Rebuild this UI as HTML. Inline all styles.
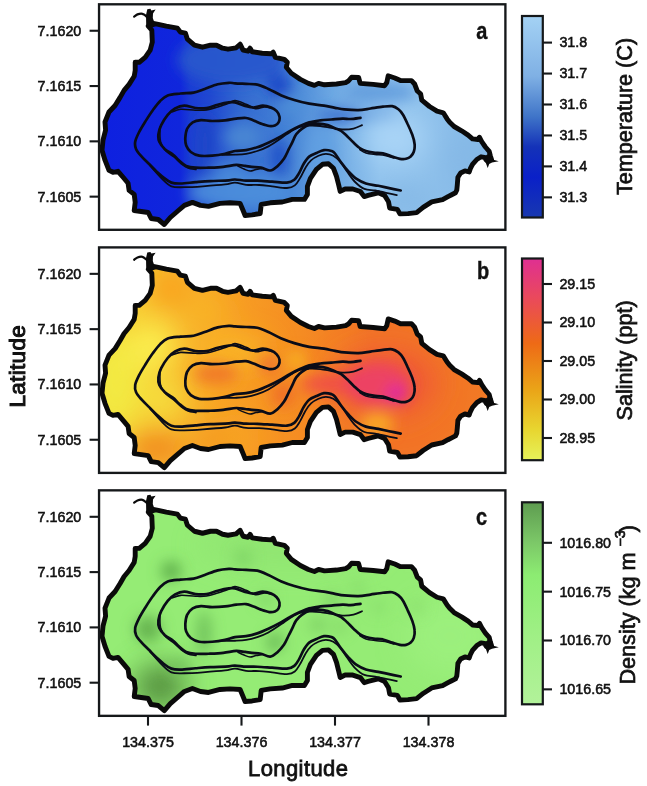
<!DOCTYPE html>
<html><head><meta charset="utf-8"><title>Figure</title>
<style>html,body{margin:0;padding:0;background:#fff}svg{display:block}text{font-family:"Liberation Sans",sans-serif;fill:#111}</style></head>
<body><svg width="647" height="786" viewBox="0 0 647 786">
<rect width="647" height="786" fill="#fff"/>
<defs>
<clipPath id="cp"><polygon points="149.5,24.5 153.3,23.3 158.3,24.3 166.3,26.1 177.4,28.1 180.4,32.1 185.4,33.1 187.4,39.2 194.4,45.2 202.5,47.2 210.5,45.2 216.5,45.2 222.6,48.2 228.0,49.2 236.1,47.8 240.1,44.2 243.1,50.2 248.1,51.2 250.1,48.2 252.1,51.8 262.2,53.2 271.2,53.8 273.2,52.2 275.3,57.3 284.3,59.3 287.3,62.3 286.3,67.3 291.3,73.3 300.4,79.4 308.4,83.4 314.4,85.4 318.5,83.4 324.5,84.8 336.5,84.0 345.6,82.6 348.6,80.8 351.6,77.2 358.6,77.5 360.2,83.4 373.2,84.4 384.6,85.7 386.8,82.5 388.2,75.8 394.8,78.0 400.5,80.6 411.5,80.6 414.6,84.0 417.3,91.0 420.6,93.8 421.8,100.2 429.5,106.5 437.0,111.2 443.3,112.8 447.1,118.9 449.7,122.2 454.1,126.5 461.6,130.8 468.1,135.1 472.5,138.9 477.9,139.5 479.5,137.3 481.7,141.6 485.4,147.0 489.2,151.4 490.3,155.7 491.5,159.5 486.5,160.5 484.4,157.3 481.1,156.8 476.8,159.5 472.5,164.4 470.3,168.7 469.2,171.9 464.9,170.9 460.6,173.0 457.9,177.3 457.3,184.9 456.8,190.0 455.5,192.8 451.2,195.0 448.0,196.6 442.6,199.6 431.7,201.9 423.1,207.4 416.6,212.6 408.0,213.6 399.9,213.9 397.4,209.4 389.7,208.1 388.5,201.7 384.6,195.4 378.3,192.8 368.1,195.4 364.2,196.6 360.4,191.5 352.8,189.0 345.1,189.0 340.2,191.4 338.5,184.3 336.5,176.3 333.5,168.3 328.5,163.8 322.5,164.3 316.4,169.3 310.4,178.3 307.4,186.4 307.4,194.4 304.4,199.4 292.3,199.4 282.3,202.0 270.2,202.8 261.2,204.4 260.2,213.5 252.1,214.9 245.1,215.5 243.1,210.5 240.1,203.4 230.0,202.8 220.0,203.4 208.5,206.4 200.5,205.4 192.4,202.4 184.4,205.4 178.4,210.5 170.3,217.5 164.3,224.5 158.3,219.5 151.2,218.5 148.2,212.5 141.2,211.5 134.2,210.5 135.2,202.4 134.2,194.4 129.1,190.4 128.1,183.3 123.1,177.3 118.0,171.3 113.0,172.3 109.0,170.3 105.0,160.2 102.0,150.2 103.0,140.1 105.6,130.1 105.0,122.0 109.0,112.0 115.1,105.5 120.1,97.4 124.1,90.4 129.1,84.4 134.2,76.3 135.2,70.3 135.2,62.3 139.2,62.3 145.2,57.3 150.2,50.2 152.3,42.2 151.8,30.1 148.2,26.1"/></clipPath>
<filter id="bl" x="-50%" y="-50%" width="200%" height="200%"><feGaussianBlur stdDeviation="14"/></filter>
<filter id="bm" x="-50%" y="-50%" width="200%" height="200%"><feGaussianBlur stdDeviation="7"/></filter>
<filter id="bs" x="-50%" y="-50%" width="200%" height="200%"><feGaussianBlur stdDeviation="8"/></filter>
<linearGradient id="ga" x1="100" x2="500" gradientUnits="userSpaceOnUse">
<stop offset="0" stop-color="#0e20e0"/><stop offset="0.2" stop-color="#1026dc"/><stop offset="0.225" stop-color="#1a3cd4"/><stop offset="0.275" stop-color="#2048d0"/><stop offset="0.35" stop-color="#3268d0"/><stop offset="0.475" stop-color="#4684d6"/><stop offset="0.575" stop-color="#6aa6e2"/><stop offset="0.7" stop-color="#92c4ee"/><stop offset="0.8" stop-color="#90c2ec"/><stop offset="1" stop-color="#84b8e6"/></linearGradient>
<linearGradient id="gb" x1="100" x2="500" gradientUnits="userSpaceOnUse">
<stop offset="0" stop-color="#f4de3c"/><stop offset="0.12" stop-color="#f8c830"/><stop offset="0.3" stop-color="#f8a424"/><stop offset="0.5" stop-color="#f58c22"/><stop offset="0.68" stop-color="#f27426"/><stop offset="0.8" stop-color="#f27426"/><stop offset="1" stop-color="#f27a24"/></linearGradient>
<linearGradient id="ca" x1="0" x2="0" y1="0" y2="1"><stop offset="0" stop-color="#a4d2f4"/><stop offset="0.3" stop-color="#7fb0e4"/><stop offset="0.5" stop-color="#3f74c8"/><stop offset="0.65" stop-color="#1432b8"/><stop offset="0.8" stop-color="#0a20c8"/><stop offset="1" stop-color="#1838b0"/></linearGradient>
<linearGradient id="cb" x1="0" x2="0" y1="0" y2="1"><stop offset="0" stop-color="#df2f92"/><stop offset="0.2" stop-color="#ea4a5a"/><stop offset="0.42" stop-color="#ee6a16"/><stop offset="0.65" stop-color="#eaa418"/><stop offset="0.85" stop-color="#e8d630"/><stop offset="1" stop-color="#e6f25a"/></linearGradient>
<linearGradient id="cc" x1="0" x2="0" y1="0" y2="1"><stop offset="0" stop-color="#5e9c50"/><stop offset="0.2" stop-color="#7cc868"/><stop offset="0.36" stop-color="#8cec72"/><stop offset="0.7" stop-color="#a2f088"/><stop offset="1" stop-color="#b2f29a"/></linearGradient>
<g id="shape"><polygon points="149.5,24.5 153.3,23.3 158.3,24.3 166.3,26.1 177.4,28.1 180.4,32.1 185.4,33.1 187.4,39.2 194.4,45.2 202.5,47.2 210.5,45.2 216.5,45.2 222.6,48.2 228.0,49.2 236.1,47.8 240.1,44.2 243.1,50.2 248.1,51.2 250.1,48.2 252.1,51.8 262.2,53.2 271.2,53.8 273.2,52.2 275.3,57.3 284.3,59.3 287.3,62.3 286.3,67.3 291.3,73.3 300.4,79.4 308.4,83.4 314.4,85.4 318.5,83.4 324.5,84.8 336.5,84.0 345.6,82.6 348.6,80.8 351.6,77.2 358.6,77.5 360.2,83.4 373.2,84.4 384.6,85.7 386.8,82.5 388.2,75.8 394.8,78.0 400.5,80.6 411.5,80.6 414.6,84.0 417.3,91.0 420.6,93.8 421.8,100.2 429.5,106.5 437.0,111.2 443.3,112.8 447.1,118.9 449.7,122.2 454.1,126.5 461.6,130.8 468.1,135.1 472.5,138.9 477.9,139.5 479.5,137.3 481.7,141.6 485.4,147.0 489.2,151.4 490.3,155.7 491.5,159.5 486.5,160.5 484.4,157.3 481.1,156.8 476.8,159.5 472.5,164.4 470.3,168.7 469.2,171.9 464.9,170.9 460.6,173.0 457.9,177.3 457.3,184.9 456.8,190.0 455.5,192.8 451.2,195.0 448.0,196.6 442.6,199.6 431.7,201.9 423.1,207.4 416.6,212.6 408.0,213.6 399.9,213.9 397.4,209.4 389.7,208.1 388.5,201.7 384.6,195.4 378.3,192.8 368.1,195.4 364.2,196.6 360.4,191.5 352.8,189.0 345.1,189.0 340.2,191.4 338.5,184.3 336.5,176.3 333.5,168.3 328.5,163.8 322.5,164.3 316.4,169.3 310.4,178.3 307.4,186.4 307.4,194.4 304.4,199.4 292.3,199.4 282.3,202.0 270.2,202.8 261.2,204.4 260.2,213.5 252.1,214.9 245.1,215.5 243.1,210.5 240.1,203.4 230.0,202.8 220.0,203.4 208.5,206.4 200.5,205.4 192.4,202.4 184.4,205.4 178.4,210.5 170.3,217.5 164.3,224.5 158.3,219.5 151.2,218.5 148.2,212.5 141.2,211.5 134.2,210.5 135.2,202.4 134.2,194.4 129.1,190.4 128.1,183.3 123.1,177.3 118.0,171.3 113.0,172.3 109.0,170.3 105.0,160.2 102.0,150.2 103.0,140.1 105.6,130.1 105.0,122.0 109.0,112.0 115.1,105.5 120.1,97.4 124.1,90.4 129.1,84.4 134.2,76.3 135.2,70.3 135.2,62.3 139.2,62.3 145.2,57.3 150.2,50.2 152.3,42.2 151.8,30.1 148.2,26.1" fill="none" stroke="#0a0a0a" stroke-width="4.9" stroke-linejoin="round"/><polygon points="147.3,9.3 150.4,8.8 151.4,10.4 155.6,9.6 153,13.5 152.8,18 154.2,22 157.5,25.5 150,28.5 146.2,24.5 146,15" fill="#0a0a0a"/><polygon points="488,154 492.5,159.5 498.8,161.2 492,162.6 489.2,164 487.7,168 485.5,162 485,156" fill="#0a0a0a"/><path d="M134.2,16.6C134.8,16.2 136.3,14.9 137.5,14.4C138.7,13.9 140.1,13.6 141.2,13.6C142.3,13.6 143.1,14.1 144.0,14.6C144.9,15.1 146.3,16.4 146.8,16.8" fill="none" stroke="#0a0a0a" stroke-width="2.3" stroke-linecap="round"/>
<g fill="none" stroke="#0a0c18" stroke-width="2.7" stroke-linecap="round" stroke-linejoin="round"><path d="M400.7,190.5C398.8,190.1 392.8,188.9 389.1,188.1C385.4,187.3 382.2,186.6 378.3,185.8C374.4,185.0 369.5,184.7 365.9,183.5C362.3,182.3 359.4,180.8 356.6,178.9C353.8,177.0 351.5,174.6 348.9,171.9C346.3,169.2 343.5,165.7 341.2,162.6C338.9,159.5 336.6,155.4 335.0,153.5C333.4,151.6 333.2,151.6 331.4,151.0C329.6,150.4 326.5,149.8 324.0,150.1C321.5,150.4 319.1,151.8 316.6,152.9C314.1,154.0 311.4,154.8 309.2,156.6C307.0,158.4 305.3,161.2 303.6,164.0C301.9,166.8 300.6,170.7 299.0,173.3C297.4,175.9 296.3,178.2 294.3,179.8C292.3,181.4 290.6,182.3 286.9,182.6C283.2,182.9 277.0,181.9 272.1,181.6C267.2,181.3 261.6,180.9 257.3,180.7C253.0,180.5 249.8,180.8 246.1,180.6C242.4,180.4 237.9,179.6 235.0,179.5C232.1,179.4 233.0,180.0 228.9,180.3C224.8,180.6 215.9,180.8 210.3,181.1C204.7,181.4 200.4,181.8 195.5,182.2C190.6,182.6 184.6,183.4 180.6,183.5C176.6,183.6 174.2,183.5 171.4,182.6C168.6,181.7 166.4,179.8 163.9,177.9C161.4,176.0 159.0,173.7 156.5,171.4C154.0,169.1 151.6,166.5 149.1,164.0C146.6,161.5 143.9,159.1 141.7,156.6C139.5,154.1 137.2,151.7 136.1,149.2C135.0,146.7 134.7,144.6 135.2,141.8C135.7,139.0 137.2,135.9 138.9,132.5C140.6,129.1 143.1,125.1 145.4,121.4C147.7,117.7 150.3,113.6 152.8,110.2C155.3,106.8 157.7,103.5 160.2,101.0C162.7,98.5 164.3,96.7 167.7,95.4C171.1,94.2 176.3,94.0 180.6,93.5C184.9,93.0 189.6,93.4 193.6,92.6C197.6,91.8 200.7,90.3 204.7,88.9C208.7,87.5 213.7,85.3 217.7,84.3C221.7,83.3 226.0,83.0 228.9,82.8C231.8,82.6 232.1,83.1 235.0,83.3C237.9,83.5 242.4,83.7 246.1,83.9C249.8,84.1 253.6,83.8 257.3,84.6C261.0,85.4 264.4,87.1 268.4,88.9C272.4,90.7 277.1,93.6 281.4,95.4C285.7,97.2 289.7,98.6 294.3,100.0C298.9,101.4 304.2,102.8 309.2,103.7C314.1,104.6 319.7,104.9 324.0,105.6C328.3,106.3 331.6,107.2 335.0,107.8C338.4,108.4 340.4,108.9 344.3,109.3C348.2,109.7 353.8,110.2 358.2,110.1C362.6,110.0 366.4,109.1 370.5,108.5C374.6,107.9 379.3,107.1 382.9,106.7C386.5,106.3 389.6,105.8 392.2,106.2C394.8,106.6 396.6,107.9 398.4,109.3C400.2,110.7 401.5,112.2 403.0,114.7C404.5,117.2 406.1,120.7 407.6,124.0C409.2,127.3 411.1,131.5 412.3,134.8C413.5,138.2 414.4,141.3 414.6,144.1C414.9,146.9 414.5,149.7 413.8,151.8C413.1,153.9 412.0,155.3 410.7,156.5C409.4,157.7 407.9,158.4 406.1,158.8C404.3,159.2 402.2,159.2 399.9,158.8C397.6,158.4 395.0,157.4 392.2,156.5C389.4,155.6 386.0,154.1 382.9,153.4C379.8,152.8 376.4,153.0 373.6,152.6C370.8,152.2 368.2,151.8 365.9,151.0C363.6,150.2 361.8,149.4 359.7,148.0C357.6,146.6 355.6,144.5 353.5,142.6C351.4,140.7 349.4,138.3 347.4,136.4C345.3,134.5 343.3,132.4 341.2,131.0C339.1,129.6 337.2,129.2 335.0,128.2C332.8,127.2 330.4,125.9 327.7,125.1C324.9,124.3 321.6,123.7 318.5,123.6C315.4,123.5 312.0,123.8 309.2,124.7C306.4,125.6 304.0,127.2 301.8,128.8C299.6,130.4 297.8,132.1 296.2,134.3C294.6,136.5 293.7,139.3 292.5,141.8C291.3,144.3 290.2,146.4 288.8,149.2C287.4,152.0 286.0,155.7 284.1,158.5C282.2,161.3 280.0,163.9 277.7,165.9C275.4,167.9 273.0,170.2 270.2,170.5C267.4,170.8 264.1,168.3 261.0,167.7C257.9,167.1 254.4,167.1 251.7,166.8C249.0,166.5 247.6,166.2 245.0,165.9C242.4,165.6 239.9,164.8 236.3,164.9C232.7,165.1 227.9,166.3 223.3,166.8C218.7,167.3 213.1,167.5 208.5,167.7C203.9,167.8 199.2,168.0 195.5,167.7C191.8,167.4 189.0,167.1 186.2,165.9C183.4,164.7 181.0,162.2 178.8,160.3C176.6,158.4 175.5,156.5 173.2,154.7C170.9,152.8 167.2,151.3 164.9,149.2C162.6,147.0 160.4,144.3 159.3,141.8C158.2,139.3 158.1,137.1 158.4,134.3C158.7,131.5 159.6,128.3 161.2,125.1C162.8,121.9 165.4,117.7 167.7,114.9C170.0,112.1 172.3,110.0 175.1,108.4C177.9,106.9 180.9,105.7 184.3,105.6C187.7,105.5 191.8,107.6 195.5,108.0C199.2,108.4 202.9,108.5 206.6,108.0C210.3,107.5 214.0,105.6 217.7,104.7C221.4,103.8 226.0,102.8 228.9,102.4C231.8,102.0 232.4,101.9 235.0,102.4C237.6,102.9 241.2,104.8 244.3,105.6C247.4,106.4 250.4,107.5 253.5,107.5C256.6,107.5 259.9,105.6 262.8,105.6C265.8,105.6 268.9,106.6 271.2,107.5C273.5,108.4 275.3,109.7 276.7,111.2C278.1,112.7 279.2,114.9 279.5,116.7C279.8,118.5 279.4,120.8 278.6,122.3C277.8,123.8 276.4,124.8 274.9,125.4C273.3,126.0 271.6,126.3 269.3,126.0C267.0,125.7 263.6,124.5 261.0,123.6C258.4,122.7 256.0,121.3 253.5,120.4C251.0,119.5 249.0,118.3 246.1,118.0C243.2,117.7 239.8,118.2 236.3,118.6C232.8,119.0 229.1,120.0 225.1,120.4C221.1,120.8 216.2,121.0 212.2,121.0C208.2,121.0 204.2,119.9 201.0,120.1C197.8,120.3 195.0,120.8 192.7,122.3C190.4,123.8 188.3,126.2 187.1,128.8C185.9,131.4 185.5,135.2 185.3,138.0C185.2,140.8 185.3,143.2 186.2,145.5C187.1,147.8 188.6,150.3 190.8,152.0C193.0,153.7 195.6,155.1 199.2,155.7C202.8,156.3 207.9,156.0 212.2,155.7C216.5,155.4 221.3,154.6 225.1,153.8C228.9,153.0 231.5,151.6 235.0,151.0C238.5,150.4 242.4,150.7 246.1,150.1C249.8,149.5 253.6,148.5 257.3,147.3C261.0,146.1 264.7,144.4 268.4,142.7C272.1,141.0 275.8,139.1 279.5,137.1C283.2,135.1 287.2,132.4 290.6,130.6C294.0,128.8 296.8,127.4 299.9,126.0C303.0,124.6 305.8,123.2 309.2,122.3C312.6,121.4 316.6,120.9 320.3,120.4C324.0,119.9 327.7,119.8 331.4,119.5C335.1,119.2 339.4,118.7 342.6,118.6C345.8,118.5 347.5,119.1 350.5,119.0C353.5,118.9 358.8,118.0 360.5,117.8"/><path d="M150.0,165.5C152.0,167.7 158.5,175.4 162.1,178.9C165.7,182.4 167.7,184.9 171.4,186.3C175.1,187.7 179.1,187.2 184.3,187.2C189.6,187.2 196.1,186.8 202.9,186.3C209.7,185.8 219.8,185.0 225.1,184.4C230.4,183.8 231.5,182.5 235.0,182.6C238.5,182.7 242.1,184.4 246.1,184.8C250.1,185.2 254.8,184.8 259.1,185.0C263.4,185.2 267.5,185.8 272.1,186.3C276.7,186.8 283.1,188.2 286.9,188.0C290.7,187.8 292.6,187.2 294.8,185.4C297.1,183.7 298.6,180.4 300.4,177.5C302.2,174.6 303.7,170.6 305.5,167.7C307.3,164.8 308.8,162.3 311.0,160.3C313.2,158.3 316.0,156.8 318.5,155.7C321.0,154.6 323.4,153.8 325.9,153.8C328.4,153.8 330.8,154.3 333.3,155.7C335.8,157.1 338.4,159.5 340.7,162.2C343.0,164.9 345.0,168.7 347.4,172.0C349.8,175.3 352.3,179.2 355.1,182.0C357.9,184.8 361.0,187.5 364.4,188.9C367.8,190.3 371.6,189.8 375.2,190.5C378.8,191.2 382.4,192.0 386.0,192.8C389.6,193.6 395.0,194.7 396.8,195.1" stroke-width="1.8"/><path d="M222.0,154.8C224.2,154.8 231.0,154.9 235.0,154.7C239.0,154.5 242.4,154.4 246.1,153.8C249.8,153.2 253.6,152.2 257.3,151.0C261.0,149.8 264.4,148.6 268.4,146.4C272.4,144.2 277.7,140.5 281.4,138.0C285.1,135.5 287.5,133.4 290.6,131.6C293.7,129.8 296.8,127.9 299.9,126.9C303.0,125.9 305.8,125.8 309.2,125.6C312.6,125.4 316.6,125.6 320.3,126.0C324.0,126.4 327.7,127.3 331.4,127.9C335.1,128.5 338.9,129.4 342.6,129.5C346.3,129.6 350.3,129.3 353.5,128.6C356.7,127.9 360.6,125.8 362.0,125.2" stroke-width="1.8"/><path d="M172.0,112.0C173.4,111.5 176.7,109.6 180.6,109.3C184.5,109.0 191.2,110.1 195.5,110.2C199.8,110.3 202.9,110.5 206.6,109.9C210.3,109.4 214.1,108.0 217.7,106.9C221.3,105.8 225.1,104.6 228.0,103.5C230.9,102.4 232.0,100.4 235.0,100.5C238.0,100.6 242.7,102.9 246.1,104.2C249.5,105.5 252.3,108.1 255.4,108.6C258.5,109.1 261.9,107.0 264.7,107.0C267.5,107.0 270.8,108.2 272.0,108.5" stroke-width="1.6"/><path d="M160.0,127.0C160.1,129.4 159.5,137.5 160.5,141.5C161.5,145.5 163.8,148.4 166.0,151.0C168.2,153.6 171.5,154.9 174.0,157.0C176.5,159.1 178.7,161.7 181.0,163.5C183.3,165.3 185.5,167.0 188.0,168.0C190.5,169.0 194.7,169.2 196.0,169.5" stroke-width="1.6"/><path d="M359.7,149.5C360.8,150.1 363.4,152.2 366.0,153.0C368.6,153.8 371.8,154.1 375.0,154.5C378.2,154.9 381.8,154.9 385.0,155.5C388.2,156.1 392.5,157.6 394.0,158.0" stroke-width="1.5"/><path d="M238.0,166.2C239.0,166.7 242.0,168.2 244.0,169.0C246.0,169.8 248.0,170.9 250.0,171.0C252.0,171.1 254.0,169.9 256.0,169.5C258.0,169.1 261.0,168.7 262.0,168.5" stroke-width="1.5"/></g></g>
</defs>
<g transform="translate(0,0.00)"><g clip-path="url(#cp)"><rect x="95" y="0" width="410" height="235" fill="url(#ga)"/>
<g filter="url(#bm)">
<ellipse cx="232" cy="60" rx="55" ry="24" fill="#2656cc" opacity=".95"/>
<ellipse cx="279" cy="86" rx="13" ry="12" fill="#1a42c8" opacity=".9"/>
<ellipse cx="205" cy="145" rx="10" ry="32" fill="#1c46c8" opacity=".9"/>
<ellipse cx="279" cy="158" rx="9" ry="20" fill="#1e4cc8" opacity=".9"/>
<ellipse cx="243" cy="137" rx="19" ry="14" fill="#4a88d4" opacity=".9"/>
<ellipse cx="240" cy="192" rx="52" ry="18" fill="#4e90dc" opacity=".9"/>
<ellipse cx="229" cy="168" rx="18" ry="8" fill="#4a8cd8" opacity=".8"/>
<ellipse cx="292" cy="105" rx="12" ry="10" fill="#5090d8" opacity=".85"/>
<ellipse cx="340" cy="116" rx="24" ry="7" fill="#3568cc" opacity=".9"/>
<ellipse cx="322" cy="155" rx="14" ry="28" fill="#60a0e2" opacity=".9"/>
<ellipse cx="380" cy="93" rx="36" ry="11" fill="#5e9adc" opacity=".9"/>
<ellipse cx="378" cy="117" rx="20" ry="6" fill="#5892d8" opacity=".8"/>
</g>
<g filter="url(#bl)">
<ellipse cx="395" cy="138" rx="30" ry="24" fill="#acd6f8" opacity=".95"/>
<ellipse cx="470" cy="160" rx="25" ry="30" fill="#84b8e6" opacity=".8"/>
<ellipse cx="405" cy="200" rx="30" ry="14" fill="#7fb4e4" opacity=".8"/>
</g></g><use href="#shape"/></g>
<rect x="99.05" y="4.30" width="406.35" height="225.5" fill="none" stroke="#15181a" stroke-width="2.35"/>
<path d="M89.6,30.75H99" stroke="#15181a" stroke-width="2.1"/><text x="81.3" y="35.60" text-anchor="end" font-size="14.3" stroke="#111" stroke-width="0.55">7.1620</text>
<path d="M89.6,86.05H99" stroke="#15181a" stroke-width="2.1"/><text x="81.3" y="90.90" text-anchor="end" font-size="14.3" stroke="#111" stroke-width="0.55">7.1615</text>
<path d="M89.6,141.35H99" stroke="#15181a" stroke-width="2.1"/><text x="81.3" y="146.20" text-anchor="end" font-size="14.3" stroke="#111" stroke-width="0.55">7.1610</text>
<path d="M89.6,196.65H99" stroke="#15181a" stroke-width="2.1"/><text x="81.3" y="201.50" text-anchor="end" font-size="14.3" stroke="#111" stroke-width="0.55">7.1605</text>
<text transform="translate(481.8,39.3) scale(0.85,1)" text-anchor="middle" font-size="23.5" font-weight="bold" stroke="#111" stroke-width="0.4">a</text>
<rect x="522" y="16.00" width="20.8" height="201.50" fill="url(#ca)" stroke="#15181a" stroke-width="2.2"/>
<path d="M543,42.60H552" stroke="#15181a" stroke-width="2.1"/><text x="559.4" y="47.45" font-size="14.3" stroke="#111" stroke-width="0.55">31.8</text>
<path d="M543,73.55H552" stroke="#15181a" stroke-width="2.1"/><text x="559.4" y="78.40" font-size="14.3" stroke="#111" stroke-width="0.55">31.7</text>
<path d="M543,104.50H552" stroke="#15181a" stroke-width="2.1"/><text x="559.4" y="109.35" font-size="14.3" stroke="#111" stroke-width="0.55">31.6</text>
<path d="M543,135.45H552" stroke="#15181a" stroke-width="2.1"/><text x="559.4" y="140.30" font-size="14.3" stroke="#111" stroke-width="0.55">31.5</text>
<path d="M543,166.40H552" stroke="#15181a" stroke-width="2.1"/><text x="559.4" y="171.25" font-size="14.3" stroke="#111" stroke-width="0.55">31.4</text>
<path d="M543,197.35H552" stroke="#15181a" stroke-width="2.1"/><text x="559.4" y="202.20" font-size="14.3" stroke="#111" stroke-width="0.55">31.3</text>
<text transform="translate(631.5,195.1) rotate(-90)" font-size="21.6" stroke="#111" stroke-width="0.7">Temperature (C)</text>
<g transform="translate(0,243.10)"><g clip-path="url(#cp)"><rect x="95" y="0" width="410" height="235" fill="url(#gb)"/>
<g filter="url(#bl)">
<ellipse cx="115" cy="140" rx="24" ry="48" fill="#f2ea42"/>
<ellipse cx="152" cy="103" rx="24" ry="24" fill="#faee50"/>
<ellipse cx="163" cy="156" rx="20" ry="20" fill="#f4e240" opacity=".95"/>
<ellipse cx="170" cy="45" rx="22" ry="22" fill="#f8a020" opacity=".9"/>
<ellipse cx="155" cy="205" rx="30" ry="16" fill="#f08020" opacity=".95"/>
<ellipse cx="210" cy="197" rx="16" ry="10" fill="#f08820" opacity=".8"/>
<ellipse cx="240" cy="193" rx="14" ry="10" fill="#f8ac28" opacity=".8"/>
<ellipse cx="385" cy="140" rx="52" ry="34" fill="#f05638" opacity=".9"/>
<ellipse cx="208" cy="68" rx="18" ry="14" fill="#f8ba28" opacity=".8"/>
<ellipse cx="235" cy="108" rx="34" ry="14" fill="#f9bc2a" opacity=".9"/>
</g>
<g filter="url(#bm)">
<ellipse cx="216" cy="131" rx="22" ry="10" fill="#f07428" opacity=".9"/>
<ellipse cx="270" cy="122" rx="10" ry="9" fill="#f06c30" opacity=".9"/>
<ellipse cx="283" cy="152" rx="12" ry="12" fill="#f06c2a" opacity=".9"/>
<ellipse cx="296" cy="117" rx="9" ry="9" fill="#f8b422" opacity=".95"/>
<ellipse cx="377" cy="181" rx="17" ry="11" fill="#f9ac28" opacity=".95"/>
<ellipse cx="335" cy="141" rx="34" ry="10" fill="#ef4e48" opacity=".9"/>
<ellipse cx="378" cy="141" rx="32" ry="21" fill="#ec4066" opacity=".95"/>
<ellipse cx="397" cy="151" rx="11" ry="9" fill="#e026a2"/>
</g>
</g><use href="#shape"/></g>
<rect x="99.05" y="247.40" width="406.35" height="225.5" fill="none" stroke="#15181a" stroke-width="2.35"/>
<path d="M89.6,273.85H99" stroke="#15181a" stroke-width="2.1"/><text x="81.3" y="278.70" text-anchor="end" font-size="14.3" stroke="#111" stroke-width="0.55">7.1620</text>
<path d="M89.6,329.15H99" stroke="#15181a" stroke-width="2.1"/><text x="81.3" y="334.00" text-anchor="end" font-size="14.3" stroke="#111" stroke-width="0.55">7.1615</text>
<path d="M89.6,384.45H99" stroke="#15181a" stroke-width="2.1"/><text x="81.3" y="389.30" text-anchor="end" font-size="14.3" stroke="#111" stroke-width="0.55">7.1610</text>
<path d="M89.6,439.75H99" stroke="#15181a" stroke-width="2.1"/><text x="81.3" y="444.60" text-anchor="end" font-size="14.3" stroke="#111" stroke-width="0.55">7.1605</text>
<text transform="translate(483,278.6) scale(0.85,1)" text-anchor="middle" font-size="23.5" font-weight="bold" stroke="#111" stroke-width="0.4">b</text>
<rect x="522" y="258.50" width="20.8" height="201.70" fill="url(#cb)" stroke="#15181a" stroke-width="2.2"/>
<path d="M543,284.00H552" stroke="#15181a" stroke-width="2.1"/><text x="559.4" y="288.85" font-size="14.3" stroke="#111" stroke-width="0.55">29.15</text>
<path d="M543,322.50H552" stroke="#15181a" stroke-width="2.1"/><text x="559.4" y="327.35" font-size="14.3" stroke="#111" stroke-width="0.55">29.10</text>
<path d="M543,361.00H552" stroke="#15181a" stroke-width="2.1"/><text x="559.4" y="365.85" font-size="14.3" stroke="#111" stroke-width="0.55">29.05</text>
<path d="M543,399.50H552" stroke="#15181a" stroke-width="2.1"/><text x="559.4" y="404.35" font-size="14.3" stroke="#111" stroke-width="0.55">29.00</text>
<path d="M543,438.00H552" stroke="#15181a" stroke-width="2.1"/><text x="559.4" y="442.85" font-size="14.3" stroke="#111" stroke-width="0.55">28.95</text>
<text transform="translate(631.6,420.4) rotate(-90)" font-size="21.6" stroke="#111" stroke-width="0.7">Salinity (ppt)</text>
<g transform="translate(0,486.05)"><g clip-path="url(#cp)"><rect x="95" y="0" width="410" height="235" fill="#95ec75"/>
<g filter="url(#bl)">
<ellipse cx="160" cy="200" rx="26" ry="22" fill="#528e3e"/>
<ellipse cx="290" cy="60" rx="90" ry="22" fill="#8ee270" opacity=".7"/>
<ellipse cx="450" cy="150" rx="45" ry="40" fill="#9ef07e" opacity=".8"/>
</g>
<g filter="url(#bm)">
<ellipse cx="171" cy="85" rx="10" ry="10" fill="#5cac4a" opacity=".95"/>
<ellipse cx="148" cy="143" rx="13" ry="13" fill="#62b04e" opacity=".95"/>
<ellipse cx="204" cy="147" rx="7" ry="22" fill="#6cbc58" opacity=".9"/>
<ellipse cx="275" cy="156" rx="9" ry="10" fill="#68b854" opacity=".9"/>
<ellipse cx="266" cy="113" rx="8" ry="7" fill="#80d466" opacity=".9"/>
<ellipse cx="243" cy="72" rx="9" ry="8" fill="#7cd064" opacity=".9"/>
<ellipse cx="332" cy="115" rx="8" ry="6" fill="#72c45c" opacity=".9"/>
<ellipse cx="318" cy="139" rx="9" ry="6" fill="#78c860" opacity=".9"/>
<ellipse cx="340" cy="141" rx="6" ry="6" fill="#7ccc62" opacity=".8"/>
<ellipse cx="358" cy="102" rx="8" ry="6" fill="#84d868" opacity=".8"/>
<ellipse cx="378" cy="121" rx="7" ry="6" fill="#86da6a" opacity=".8"/>
<ellipse cx="417" cy="121" rx="7" ry="7" fill="#88dc6c" opacity=".8"/>
<ellipse cx="180" cy="180" rx="10" ry="8" fill="#70c05a" opacity=".8"/>
</g></g><use href="#shape"/></g>
<rect x="99.05" y="490.35" width="406.35" height="225.5" fill="none" stroke="#15181a" stroke-width="2.35"/>
<path d="M89.6,516.80H99" stroke="#15181a" stroke-width="2.1"/><text x="81.3" y="521.65" text-anchor="end" font-size="14.3" stroke="#111" stroke-width="0.55">7.1620</text>
<path d="M89.6,572.10H99" stroke="#15181a" stroke-width="2.1"/><text x="81.3" y="576.95" text-anchor="end" font-size="14.3" stroke="#111" stroke-width="0.55">7.1615</text>
<path d="M89.6,627.40H99" stroke="#15181a" stroke-width="2.1"/><text x="81.3" y="632.25" text-anchor="end" font-size="14.3" stroke="#111" stroke-width="0.55">7.1610</text>
<path d="M89.6,682.70H99" stroke="#15181a" stroke-width="2.1"/><text x="81.3" y="687.55" text-anchor="end" font-size="14.3" stroke="#111" stroke-width="0.55">7.1605</text>
<text transform="translate(481.6,525.4) scale(0.85,1)" text-anchor="middle" font-size="23.5" font-weight="bold" stroke="#111" stroke-width="0.4">c</text>
<rect x="522" y="502.30" width="20.8" height="202.00" fill="url(#cc)" stroke="#15181a" stroke-width="2.2"/>
<path d="M543,542.80H552" stroke="#15181a" stroke-width="2.1"/><text x="559.4" y="547.65" font-size="14.3" stroke="#111" stroke-width="0.55">1016.80</text>
<path d="M543,591.65H552" stroke="#15181a" stroke-width="2.1"/><text x="559.4" y="596.50" font-size="14.3" stroke="#111" stroke-width="0.55">1016.75</text>
<path d="M543,640.50H552" stroke="#15181a" stroke-width="2.1"/><text x="559.4" y="645.35" font-size="14.3" stroke="#111" stroke-width="0.55">1016.70</text>
<path d="M543,689.35H552" stroke="#15181a" stroke-width="2.1"/><text x="559.4" y="694.20" font-size="14.3" stroke="#111" stroke-width="0.55">1016.65</text>
<text transform="translate(635.3,684.5) rotate(-90)" font-size="21.6" stroke="#111" stroke-width="0.7">Density (kg m</text><text transform="translate(624.8,546.5) rotate(-90)" font-size="14.2" stroke="#111" stroke-width="0.7">−3</text><text transform="translate(635.3,532.3) rotate(-90)" font-size="21.6" stroke="#111" stroke-width="0.7">)</text>
<path d="M148.0,715.8V725.6" stroke="#15181a" stroke-width="2.1"/><text x="148.0" y="747.4" text-anchor="middle" font-size="14.3" stroke="#111" stroke-width="0.55">134.375</text>
<path d="M241.5,715.8V725.6" stroke="#15181a" stroke-width="2.1"/><text x="241.5" y="747.4" text-anchor="middle" font-size="14.3" stroke="#111" stroke-width="0.55">134.376</text>
<path d="M335.0,715.8V725.6" stroke="#15181a" stroke-width="2.1"/><text x="335.0" y="747.4" text-anchor="middle" font-size="14.3" stroke="#111" stroke-width="0.55">134.377</text>
<path d="M428.5,715.8V725.6" stroke="#15181a" stroke-width="2.1"/><text x="428.5" y="747.4" text-anchor="middle" font-size="14.3" stroke="#111" stroke-width="0.55">134.378</text>
<text x="298.2" y="776.2" text-anchor="middle" font-size="22" letter-spacing="0.4" stroke="#111" stroke-width="0.8">Longitude</text>
<text transform="translate(24.5,366.2) rotate(-90)" text-anchor="middle" font-size="22.6" letter-spacing="0.3" stroke="#111" stroke-width="1">Latitude</text>
</svg></body></html>
